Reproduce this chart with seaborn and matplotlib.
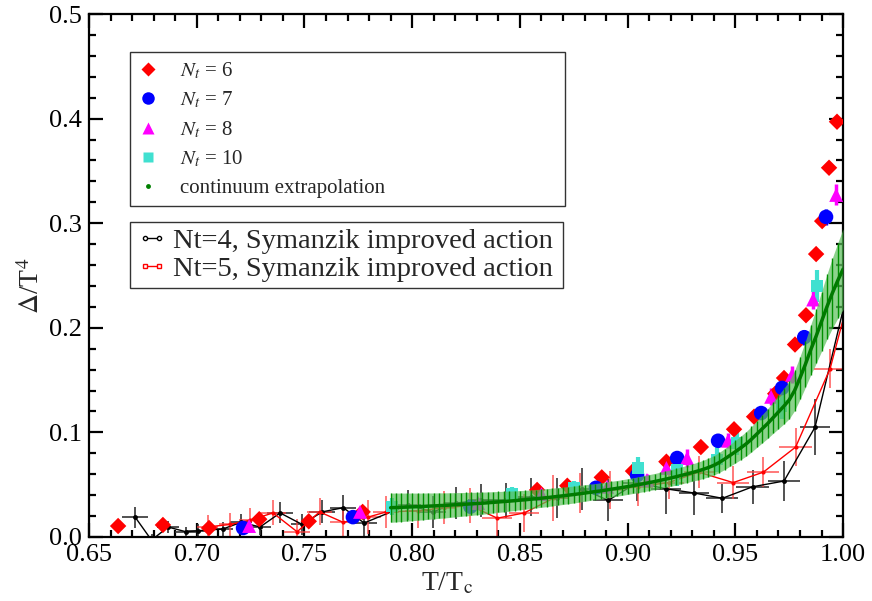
import numpy as np
import pandas as pd
import matplotlib
matplotlib.use("Agg")
import matplotlib.pyplot as plt
import seaborn as sns
from matplotlib.lines import Line2D
from matplotlib.ticker import MultipleLocator, FormatStrFormatter

# ---------------- data ----------------
nt6_x = [0.6635, 0.6843, 0.7057, 0.729, 0.752, 0.777, 0.858, 0.872, 0.888, 0.9025, 0.918,
         0.934, 0.9494, 0.9587, 0.9685, 0.9726, 0.9777, 0.9828, 0.9875, 0.9903, 0.9935, 0.9972]
nt6_y = [0.0105, 0.0115, 0.0086, 0.017, 0.015, 0.024, 0.045, 0.049, 0.057, 0.063, 0.072,
         0.086, 0.103, 0.115, 0.137, 0.152, 0.184, 0.212, 0.2705, 0.302, 0.353, 0.397]

nt7_x = [0.7215, 0.7725, 0.827, 0.8853, 0.9044, 0.923, 0.942, 0.962, 0.9717, 0.982, 0.9921]
nt7_y = [0.0086, 0.019, 0.029, 0.047, 0.059, 0.0755, 0.092, 0.1185, 0.1425, 0.191, 0.306]
nt7_e = [0.003, 0.003, 0.004, 0.004, 0.004, 0.005, 0.005, 0.005, 0.006, 0.007, 0.008]

nt8_x = [0.7243, 0.7758, 0.8306, 0.860, 0.8905, 0.909, 0.918, 0.9276, 0.9466, 0.9666, 0.9763, 0.9861, 0.9968]
nt8_y = [0.0105, 0.024, 0.0325, 0.041, 0.048, 0.0545, 0.066, 0.0755, 0.092, 0.134, 0.155, 0.227, 0.327]
nt8_e = [0.004, 0.004, 0.005, 0.005, 0.005, 0.006, 0.006, 0.009, 0.007, 0.008, 0.008, 0.009, 0.010]

nt10_x = [0.7907, 0.8464, 0.875, 0.9049, 0.923, 0.9415, 0.9508, 0.9715, 0.988]
nt10_y = [0.029, 0.041, 0.047, 0.066, 0.064, 0.074, 0.090, 0.125, 0.240]
nt10_e = [0.008, 0.007, 0.007, 0.010, 0.015, 0.012, 0.012, 0.012, 0.015]

nt4_x = [0.6714, 0.679, 0.6867, 0.695, 0.7006, 0.712, 0.7206, 0.7294, 0.7387, 0.7489, 0.7582,
         0.768, 0.7777, 0.798, 0.8097, 0.8203, 0.832, 0.8436, 0.855, 0.867, 0.879, 0.891,
         0.9044, 0.918, 0.931, 0.944, 0.958, 0.9726, 0.987, 1.005]
nt4_y = [0.019, -0.003, 0.0095, 0.005, 0.006, 0.0076, 0.014, 0.0096, 0.023, 0.012, 0.024,
         0.028, 0.0134, 0.0306, 0.024, 0.0325, 0.035, 0.035, 0.038, 0.037, 0.046, 0.035,
         0.052, 0.046, 0.042, 0.037, 0.048, 0.0535, 0.105, 0.26]
nt4_xe = [0.006, 0.005, 0.005, 0.005, 0.005, 0.005, 0.005, 0.005, 0.006, 0.005, 0.006,
          0.006, 0.006, 0.006, 0.006, 0.006, 0.006, 0.006, 0.006, 0.006, 0.006, 0.007,
          0.007, 0.007, 0.007, 0.0074, 0.0075, 0.0075, 0.007, 0.007]
nt4_ye = [0.010, 0.006, 0.006, 0.005, 0.006, 0.007, 0.008, 0.008, 0.010, 0.010, 0.011,
          0.012, 0.012, 0.014, 0.015, 0.015, 0.016, 0.017, 0.018, 0.019, 0.020, 0.020,
          0.018, 0.024, 0.021, 0.014, 0.016, 0.019, 0.027, 0.04]

nt5_x = [0.705, 0.7155, 0.7247, 0.7354, 0.7466, 0.757, 0.768, 0.7795, 0.788, 0.8027, 0.815,
         0.827, 0.8395, 0.852, 0.8655, 0.878, 0.892, 0.905, 0.919, 0.933, 0.949, 0.963,
         0.978, 0.994, 1.008]
nt5_y = [0.0096, 0.012, 0.016, 0.023, 0.005, 0.024, 0.014, 0.019, 0.024, 0.025, 0.028,
         0.030, 0.018, 0.023, 0.037, 0.042, 0.045, 0.048, 0.052, 0.062, 0.052, 0.062,
         0.086, 0.161, 0.27]
nt5_xe = [0.005, 0.005, 0.005, 0.006, 0.006, 0.006, 0.006, 0.006, 0.006, 0.006, 0.006,
          0.006, 0.007, 0.007, 0.007, 0.007, 0.007, 0.007, 0.007, 0.007, 0.0075, 0.0075,
          0.0077, 0.0077, 0.008]
nt5_ye = [0.011, 0.011, 0.012, 0.012, 0.012, 0.013, 0.014, 0.016, 0.015, 0.016, 0.016,
          0.017, 0.017, 0.018, 0.022, 0.019, 0.018, 0.018, 0.016, 0.015, 0.016, 0.014,
          0.018, 0.019, 0.03]

cont_x = [0.7900, 0.7925, 0.7950, 0.7975, 0.8000, 0.8025, 0.8050, 0.8075, 0.8100, 0.8125,
          0.8150, 0.8175, 0.8200, 0.8225, 0.8250, 0.8275, 0.8300, 0.8325, 0.8350, 0.8375,
          0.8400, 0.8425, 0.8450, 0.8475, 0.8500, 0.8525, 0.8550, 0.8575, 0.8600, 0.8625,
          0.8650, 0.8675, 0.8700, 0.8725, 0.8750, 0.8775, 0.8800, 0.8825, 0.8850, 0.8875,
          0.8900, 0.8925, 0.8950, 0.8975, 0.9000, 0.9025, 0.9050, 0.9075, 0.9100, 0.9125,
          0.9150, 0.9175, 0.9200, 0.9225, 0.9250, 0.9275, 0.9300, 0.9325, 0.9350, 0.9375,
          0.9400, 0.9425, 0.9450, 0.9475, 0.9500, 0.9525, 0.9550, 0.9575, 0.9600, 0.9625,
          0.9650, 0.9675, 0.9700, 0.9725, 0.9750, 0.9775, 0.9800, 0.9825, 0.9850, 0.9875,
          0.9900, 0.9925, 0.9950, 0.9975, 1.0000]
cont_y = [0.0280, 0.0282, 0.0284, 0.0286, 0.0288, 0.0290, 0.0292, 0.0295, 0.0297, 0.0300,
          0.0302, 0.0305, 0.0308, 0.0311, 0.0314, 0.0317, 0.0320, 0.0323, 0.0327, 0.0331,
          0.0335, 0.0339, 0.0343, 0.0347, 0.0352, 0.0356, 0.0361, 0.0366, 0.0371, 0.0376,
          0.0382, 0.0388, 0.0394, 0.0400, 0.0406, 0.0413, 0.0420, 0.0427, 0.0434, 0.0441,
          0.0449, 0.0457, 0.0465, 0.0473, 0.0482, 0.0491, 0.0500, 0.0510, 0.0520, 0.0530,
          0.0541, 0.0552, 0.0564, 0.0576, 0.0589, 0.0602, 0.0616, 0.0630, 0.0646, 0.0664,
          0.0685, 0.0712, 0.0745, 0.0780, 0.0815, 0.0852, 0.0890, 0.0935, 0.0985, 0.1035,
          0.1085, 0.1140, 0.1195, 0.1250, 0.1310, 0.1400, 0.1520, 0.1650, 0.1790, 0.1920,
          0.2060, 0.2200, 0.2330, 0.2450, 0.2560]
cont_e = [0.0140, 0.0138, 0.0136, 0.0134, 0.0132, 0.0130, 0.0128, 0.0126, 0.0124, 0.0122,
          0.0120, 0.0118, 0.0116, 0.0114, 0.0112, 0.0110, 0.0108, 0.0106, 0.0104, 0.0102,
          0.0100, 0.0098, 0.0096, 0.0094, 0.0092, 0.0090, 0.0089, 0.0088, 0.0087, 0.0086,
          0.0085, 0.0084, 0.0083, 0.0082, 0.0081, 0.0080, 0.0079, 0.0078, 0.0077, 0.0077,
          0.0076, 0.0076, 0.0075, 0.0075, 0.0075, 0.0075, 0.0076, 0.0076, 0.0077, 0.0077,
          0.0078, 0.0078, 0.0079, 0.0080, 0.0081, 0.0082, 0.0083, 0.0085, 0.0087, 0.0090,
          0.0093, 0.0096, 0.0100, 0.0104, 0.0108, 0.0112, 0.0117, 0.0122, 0.0128, 0.0135,
          0.0142, 0.0150, 0.0160, 0.0170, 0.0180, 0.0192, 0.0205, 0.0220, 0.0240, 0.0260,
          0.0285, 0.0310, 0.0335, 0.0360, 0.0385]

x_ticks = [0.65, 0.70, 0.75, 0.80, 0.85, 0.90, 0.95, 1.00]
y_ticks = [0.0, 0.1, 0.2, 0.3, 0.4, 0.5]

# ---------------- style ----------------
sns.set_theme(style="ticks")
plt.rcParams['font.family'] = ['Liberation Serif', 'DejaVu Serif']
plt.rcParams['mathtext.fontset'] = 'stix'
plt.rcParams['axes.linewidth'] = 1.6

fig = plt.figure(figsize=(8.72, 6.01), dpi=100)
ax = fig.add_axes([0.1021, 0.1065, 0.8647, 0.8702])

# Nt=4 and Nt=5 lines with error bars
ax.errorbar(nt4_x, nt4_y, xerr=nt4_xe, yerr=nt4_ye, fmt='none', ecolor='#333333',
            elinewidth=1.4, alpha=0.85, zorder=2)
ax.errorbar(nt5_x, nt5_y, xerr=nt5_xe, yerr=nt5_ye, fmt='none', ecolor='#ff4040',
            elinewidth=1.4, alpha=0.7, zorder=2)
sns.lineplot(x=nt4_x, y=nt4_y, sort=False, estimator=None, color='black', lw=1.0,
             marker='o', markersize=3.5, markeredgewidth=0, ax=ax, zorder=2.5, legend=False)
sns.lineplot(x=nt5_x, y=nt5_y, sort=False, estimator=None, color='red', lw=1.0,
             marker='o', markersize=3, markeredgewidth=0, ax=ax, zorder=2.5, legend=False)

# lattice data
ax.errorbar(nt7_x, nt7_y, yerr=nt7_e, fmt='none', ecolor='blue', elinewidth=2.5, zorder=3)
ax.errorbar(nt8_x, nt8_y, yerr=nt8_e, fmt='none', ecolor='magenta', elinewidth=2.5, zorder=3)
ax.errorbar(nt10_x, nt10_y, yerr=nt10_e, fmt='none', ecolor='#40e0d0', elinewidth=3, zorder=3)
sns.scatterplot(x=nt6_x, y=nt6_y, marker='D', s=70, color='red', edgecolor='none', ax=ax, zorder=3)
sns.scatterplot(x=nt7_x, y=nt7_y, marker='o', s=110, color='blue', edgecolor='none', ax=ax, zorder=3)
sns.scatterplot(x=nt8_x, y=nt8_y, marker='^', s=100, color='magenta', edgecolor='none', ax=ax, zorder=3)
sns.scatterplot(x=nt10_x, y=nt10_y, marker='s', s=70, color='#40e0d0', edgecolor='none', ax=ax, zorder=3)

# continuum band
cx = np.array(cont_x); cy = np.array(cont_y); ce = np.array(cont_e)
ax.fill_between(cx, cy - ce, cy + ce, color='#5cbf5c', alpha=0.7, lw=0, zorder=4)
ax.vlines(cx, cy - ce, cy + ce, color='#009000', lw=1.0, zorder=4.5)
sns.lineplot(x=cont_x, y=cont_y, sort=False, estimator=None, color='#007a00', lw=2.5,
             ax=ax, zorder=5, legend=False)

# axes
ax.set_xlim(0.65, 1.0)
ax.set_ylim(0.0, 0.5)
ax.set_xticks(x_ticks)
ax.set_yticks(y_ticks)
ax.xaxis.set_major_formatter(FormatStrFormatter('%.2f'))
ax.yaxis.set_major_formatter(FormatStrFormatter('%.1f'))
ax.xaxis.set_minor_locator(MultipleLocator(0.01))
ax.yaxis.set_minor_locator(MultipleLocator(0.02))
ax.tick_params(which='both', direction='in', top=True, right=True, colors='black',
               labelsize=19, width=1.6)
ax.tick_params(which='major', length=10, pad=5)
ax.tick_params(which='minor', length=5)
for s in ax.spines.values():
    s.set_color('black'); s.set_linewidth(1.6)
ax.set_xlabel(r'T/T$_\mathrm{c}$', fontsize=20)
ax.set_ylabel(r'$\Delta$/T$^4$', fontsize=20)
ax.xaxis.set_label_coords(0.475, -0.065)
ax.yaxis.set_label_coords(-0.058, 0.48)

# legends
h1 = [Line2D([], [], ls='none', marker='D', color='red', ms=7, mec='none'),
      Line2D([], [], ls='none', marker='o', color='blue', ms=9, mec='none'),
      Line2D([], [], ls='none', marker='^', color='magenta', ms=8.5, mec='none'),
      Line2D([], [], ls='none', marker='s', color='#40e0d0', ms=7, mec='none'),
      Line2D([], [], ls='none', marker='o', color='green', ms=3.5, mec='none')]
l1 = [r'$N_t$ = 6', r'$N_t$ = 7', r'$N_t$ = 8', r'$N_t$ = 10', 'continuum extrapolation']
leg1 = ax.legend(h1, l1, loc='upper left', bbox_to_anchor=(0.054, 0.927, 0.577, 0.0),
                 mode='expand', fontsize=15, frameon=True, fancybox=False, handlelength=1.0,
                 handletextpad=1.0, labelspacing=0.42, borderpad=0.4, borderaxespad=0)
leg1.get_frame().set_edgecolor('black'); leg1.get_frame().set_linewidth(1.0)
ax.add_artist(leg1)

h2 = [Line2D([], [], color='black', lw=1, marker='o', ms=3, mfc='white', mec='black'),
      Line2D([], [], color='red', lw=1, marker='s', ms=3, mfc='white', mec='red')]
l2 = ['Nt=4, Symanzik improved action', 'Nt=5, Symanzik improved action']
leg2 = ax.legend(h2, l2, loc='upper left', bbox_to_anchor=(0.054, 0.602, 0.574, 0.0),
                 mode='expand', fontsize=20.5, frameon=True, fancybox=False, handlelength=1.1,
                 handletextpad=0.2, labelspacing=0.05, borderpad=0.22, borderaxespad=0,
                 numpoints=2)
leg2.get_frame().set_edgecolor('black'); leg2.get_frame().set_linewidth(1.0)

fig.savefig('out.png', dpi=100)
